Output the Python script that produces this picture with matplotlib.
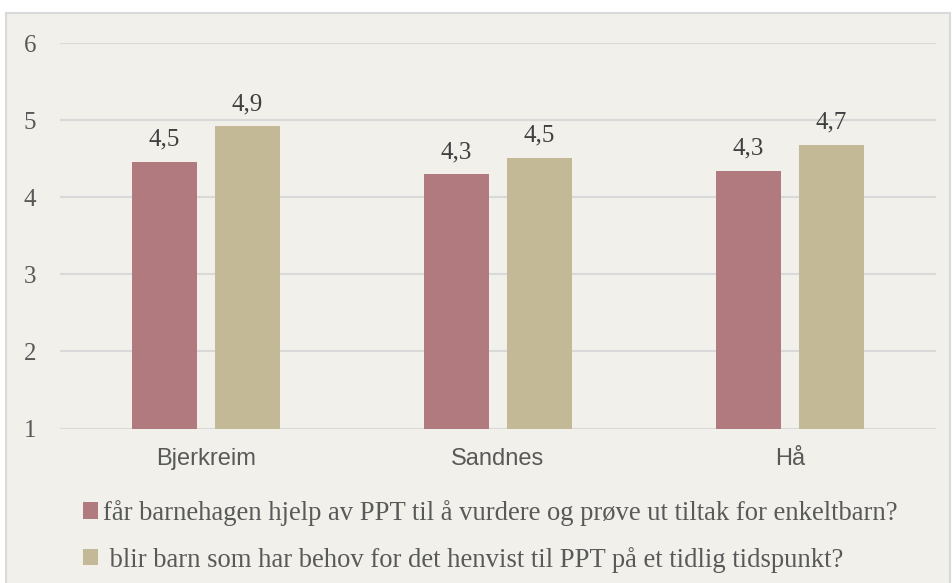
import numpy as np
import matplotlib
matplotlib.use("Agg")
from matplotlib import pyplot as plt
from matplotlib.patches import Rectangle

categories = ["Bjerkreim", "Sandnes", "Hå"]
hjelp_values = [4.46, 4.30, 4.34]
henvist_values = [4.92, 4.51, 4.68]
series_labels = [
    "får barnehagen hjelp av PPT til å vurdere og prøve ut tiltak for enkeltbarn?",
    " blir barn som har behov for det henvist til PPT på et tidlig tidspunkt?",
]
y_ticks = [1, 2, 3, 4, 5, 6]

bg = "#F1F0EA"
red = "#B07A7E"
tan = "#C3B996"
grey_text = "#595959"
serif = ["Liberation Serif", "DejaVu Serif"]
sans = ["Liberation Sans", "DejaVu Sans"]

W, H = 952, 583
fig = plt.figure(figsize=(W / 100, H / 100), dpi=100)
fig.patch.set_facecolor("white")

# chart frame
fig.patches.append(Rectangle((6 / W, -0.05), 944 / W, (570 / H) + 0.05,
                             transform=fig.transFigure, facecolor=bg,
                             edgecolor="#D9D9D9", linewidth=1.5, zorder=-5))

ax = fig.add_axes([60 / W, (H - 428.5) / H, 876 / W, 385.5 / H])
ax.set_facecolor("none")
ax.set_zorder(2)

x = np.arange(len(categories))
width = 0.2226
offset = 0.142
b1 = ax.bar(x - offset, hjelp_values, width, bottom=0, color=red, zorder=3,
            label=series_labels[0])
b2 = ax.bar(x + offset, henvist_values, width, bottom=0, color=tan, zorder=3,
            label=series_labels[1])

for bars, vals in [(b1, hjelp_values), (b2, henvist_values)]:
    for bar, v in zip(bars, vals):
        ax.annotate(f"{v:.1f}".replace(".", ","),
                    (bar.get_x() + bar.get_width() / 2, v),
                    xytext=(0, 8), textcoords="offset points",
                    ha="center", va="bottom", fontsize=18,
                    family=serif, color="#404040")

ax.set_ylim(1, 6)
ax.set_xlim(-0.5, 2.5)
ax.set_yticks(y_ticks)
ax.set_yticklabels([str(t) for t in y_ticks], family=serif, fontsize=18,
                   color=grey_text)
ax.set_xticks(x)
ax.set_xticklabels(categories, family=sans, fontsize=17, color=grey_text)
ax.tick_params(axis="y", length=0, pad=17)
ax.tick_params(axis="x", length=0, pad=14)
ax.yaxis.grid(True, color="#D9D9D9", linewidth=1.5, zorder=0)
ax.set_axisbelow(True)
for s in ax.spines.values():
    s.set_visible(False)

leg = fig.legend(handles=[b1, b2], loc="upper left",
                 bbox_to_anchor=(59 / W, (H - 476) / H),
                 frameon=False, ncol=1, handlelength=0.55, handleheight=0.55,
                 handletextpad=0.2, labelspacing=0.78,
                 prop={"family": serif, "size": 19.2})
for t in leg.get_texts():
    t.set_color(grey_text)

fig.savefig("out.png", dpi=100, facecolor=fig.get_facecolor())
